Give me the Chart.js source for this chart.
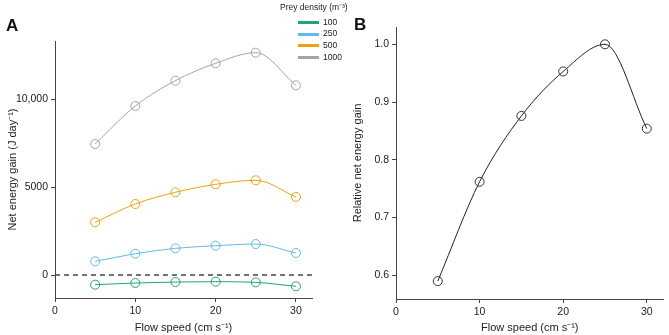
<!DOCTYPE html>
<html>
<head>
<meta charset="utf-8">
<script src="https://cdn.jsdelivr.net/npm/chart.js@4/dist/chart.umd.min.js"></script>
<style>
  html, body { margin: 0; padding: 0; background: #fff; }
  body { width: 669px; height: 335px; position: relative; overflow: hidden;
         font-family: "Liberation Sans", Arial, sans-serif; color: #222; }
  #wrapA { position: absolute; left: 0; top: 0; width: 330px; height: 335px; }
  #wrapB { position: absolute; left: 330px; top: 0; width: 339px; height: 335px; }
  .panel { position: absolute; font-weight: bold; font-size: 17px; color: #111; }
  #legend { position: absolute; left: 280px; top: 1px; font-size: 8.5px; color: #222; }
  #legend .row { position: relative; height: 11.7px; line-height: 11.7px; padding-left: 43px; }
  #legend .sw { position: absolute; left: 18px; top: 4.5px; width: 21px; height: 3px; }
  #legend .ttl { margin-bottom: 4.5px; }
</style>
</head>
<body>
<div id="wrapA"><canvas id="chartA"></canvas></div>
<div id="wrapB"><canvas id="chartB"></canvas></div>
<div class="panel" style="left:6px; top:16px;">A</div>
<div class="panel" style="left:354px; top:15px;">B</div>
<div id="legend"></div>
<script>
// data
const flowSpeed = [5, 10, 15, 20, 25, 30];
const preyDensity = ['100', '250', '500', '1000'];
const gain100 = [-550, -455, -400, -380, -420, -645];
const gain250 = [780, 1215, 1520, 1670, 1765, 1255];
const gain500 = [3005, 4050, 4715, 5170, 5400, 4450];
const gain1000 = [7470, 9635, 11080, 12070, 12675, 10815];
const relativeGain = [0.590, 0.762, 0.876, 0.953, 1.000, 0.854];

const xTicks = [0, 10, 20, 30];
const xTickLabels = ['0', '10', '20', '30'];
const yTicksA = [0, 5000, 10000];
const yTickLabelsA = ['0', '5000', '10,000'];
const yTicksB = [0.6, 0.7, 0.8, 0.9, 1.0];
const yTickLabelsB = ['0.6', '0.7', '0.8', '0.9', '1.0'];

const colors = ['#23a27b', '#62bae9', '#e9a312', '#a4a4a4'];
const seriesA = [gain100, gain250, gain500, gain1000];

const axisColor = '#444';
const tickFont = { family: 'Liberation Sans', size: 10.5 };
const titleFont = { family: 'Liberation Sans', size: 11 };

function pts(xs, ys) {
    return xs.map((x, i) => ({ x: x, y: ys[i] }));
}

function axis(ticks, labels, min, max, extra) {
    return Object.assign({
        type: 'linear',
        min: min,
        max: max,
        afterBuildTicks: s => { s.ticks = ticks.map(v => ({ value: v })); },
        ticks: {
            color: '#222',
            font: tickFont,
            padding: 3,
            callback: (v) => labels[ticks.indexOf(v)] ?? ''
        },
        grid: { drawOnChartArea: false, drawTicks: true, tickLength: 4, color: axisColor },
        border: { display: true, color: axisColor, width: 1 }
    }, extra);
}

Chart.defaults.font.family = 'Liberation Sans';
Chart.defaults.animation = false;

const dsA = seriesA.map((s, i) => ({
    label: preyDensity[i],
    data: pts(flowSpeed, s),
    borderColor: colors[i],
    borderWidth: 1,
    pointRadius: 4.5,
    pointBorderWidth: 1,
    pointBorderColor: colors[i],
    pointBackgroundColor: 'rgba(255,255,255,0)',
    cubicInterpolationMode: 'monotone'
}));
dsA.unshift({
    label: 'zero',
    data: [{ x: 0, y: 0 }, { x: 32, y: 0 }],
    borderColor: '#444',
    borderWidth: 1.5,
    borderDash: [5, 4],
    pointRadius: 0
});

new Chart(document.getElementById('chartA'), {
    type: 'line',
    data: { datasets: dsA },
    options: {
        responsive: true,
        maintainAspectRatio: false,
        layout: { padding: { top: 41, right: 18, left: 0, bottom: 0 } },
        plugins: { legend: { display: false }, tooltip: { enabled: false } },
        scales: {
            x: axis(xTicks, xTickLabels, 0, 32, {
                afterFit: s => { s.height = 37; },
                title: { display: true, text: 'Flow speed (cm s⁻¹)', color: '#222', font: titleFont, padding: { top: 0, bottom: 0 } }
            }),
            y: axis(yTicksA, yTickLabelsA, -1310, 13340, {
                afterFit: s => { s.width = 55; },
                title: { display: true, text: 'Net energy gain (J day⁻¹)', color: '#222', font: titleFont, padding: { top: 6, bottom: 0 } }
            })
        }
    }
});

new Chart(document.getElementById('chartB'), {
    type: 'line',
    data: {
        datasets: [{
            label: 'Relative net energy gain',
            data: pts(flowSpeed, relativeGain),
            borderColor: '#222',
            borderWidth: 1,
            pointRadius: 4.5,
            pointBorderWidth: 1,
            pointBorderColor: '#333',
            pointBackgroundColor: 'rgba(255,255,255,0)',
            cubicInterpolationMode: 'monotone'
        }]
    },
    options: {
        responsive: true,
        maintainAspectRatio: false,
        layout: { padding: { top: 27, right: 1, left: 0, bottom: 0 } },
        plugins: { legend: { display: false }, tooltip: { enabled: false } },
        scales: {
            x: axis(xTicks, xTickLabels, 0, 32, {
                afterFit: s => { s.height = 36; },
                title: { display: true, text: 'Flow speed (cm s⁻¹)', color: '#222', font: titleFont, padding: { top: 0, bottom: 0 } }
            }),
            y: axis(yTicksB, yTickLabelsB, 0.559, 1.030, {
                afterFit: s => { s.width = 66; },
                title: { display: true, text: 'Relative net energy gain', color: '#222', font: titleFont, padding: { top: 21, bottom: 0 } }
            })
        }
    }
});

// legend
const leg = document.getElementById('legend');
let html = '<div class="ttl">Prey density (m⁻³)</div>';
preyDensity.forEach((d, i) => {
    html += '<div class="row"><span class="sw" style="background:' + colors[i] + '"></span>' + d + '</div>';
});
leg.innerHTML = html;
</script>
</body>
</html>
